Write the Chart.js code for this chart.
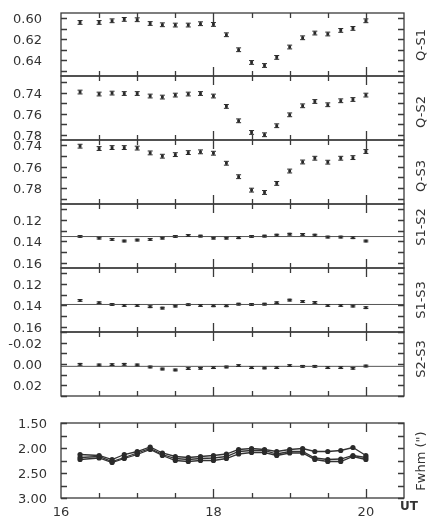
<!DOCTYPE html>
<html>
<head>
<meta charset="utf-8">
<script src="https://cdn.jsdelivr.net/npm/chart.js@4"></script>
<style>
  html, body { margin: 0; padding: 0; background: #fff; }
  #wrap { position: relative; width: 431px; height: 520px; }
  #wrap canvas { position: absolute; left: 0; top: 0; }
</style>
</head>
<body>
<div id="wrap"></div>
<script>
// Observation times (UT, hours)
const ut = [16.25, 16.5, 16.67, 16.83, 17.0, 17.17, 17.33, 17.5, 17.67, 17.83, 18.0,
            18.17, 18.33, 18.5, 18.67, 18.83, 19.0, 19.17, 19.33, 19.5, 19.67, 19.83, 20.0];

// Differential magnitudes: quasar minus comparison stars
const qs1 = [0.6040, 0.6040, 0.6024, 0.6011, 0.6014, 0.6050, 0.6062, 0.6065, 0.6065, 0.6052, 0.6059,
             0.6157, 0.6300, 0.6421, 0.6450, 0.6373, 0.6274, 0.6186, 0.6141, 0.6150, 0.6116, 0.6097, 0.6024];
const qs2 = [0.7393, 0.7412, 0.7403, 0.7407, 0.7407, 0.7431, 0.7441, 0.7422, 0.7412, 0.7407, 0.7431,
             0.7530, 0.7667, 0.7778, 0.7800, 0.7714, 0.7610, 0.7524, 0.7483, 0.7514, 0.7476, 0.7464, 0.7422];
const qs3 = [0.7408, 0.7430, 0.7421, 0.7421, 0.7426, 0.7471, 0.7502, 0.7487, 0.7468, 0.7461, 0.7474,
             0.7568, 0.7694, 0.7820, 0.7842, 0.7757, 0.7641, 0.7556, 0.7521, 0.7558, 0.7521, 0.7515, 0.7458];

// Star minus star (check curves) and their mean levels
const s1s2 = [0.1354, 0.1370, 0.1382, 0.1397, 0.1388, 0.1382, 0.1370, 0.1354, 0.1345, 0.1351, 0.1370,
              0.1370, 0.1366, 0.1354, 0.1351, 0.1342, 0.1333, 0.1335, 0.1342, 0.1360, 0.1360, 0.1366, 0.1397];
const s1s3 = [0.1354, 0.1376, 0.1392, 0.1401, 0.1401, 0.1413, 0.1426, 0.1407, 0.1394, 0.1401, 0.1404,
              0.1404, 0.1389, 0.1392, 0.1389, 0.1376, 0.1351, 0.1364, 0.1373, 0.1401, 0.1401, 0.1407, 0.1422];
const s2s3 = [0.0003, 0.0009, 0.0006, 0.0003, 0.0009, 0.0028, 0.0047, 0.0056, 0.0043, 0.0040, 0.0034,
              0.0028, 0.0015, 0.0034, 0.0037, 0.0034, 0.0015, 0.0022, 0.0022, 0.0034, 0.0034, 0.0040, 0.0019];
const s1s2Mean = 0.1355;
const s1s3Mean = 0.1392;
const s2s3Mean = 0.0022;

// Photometric errors (mag)
const errQ = 0.0018;
const errS = 0.0008;

// Seeing (FWHM, arcsec) for the three frames per epoch
const fwhmA = [2.13, 2.15, 2.23, 2.13, 2.07, 1.98, 2.10, 2.17, 2.19, 2.17, 2.15,
               2.12, 2.03, 2.01, 2.03, 2.07, 2.03, 2.01, 2.07, 2.07, 2.05, 1.99, 2.15];
const fwhmB = [2.19, 2.17, 2.27, 2.19, 2.10, 2.01, 2.13, 2.21, 2.23, 2.21, 2.20,
               2.17, 2.07, 2.05, 2.05, 2.12, 2.07, 2.07, 2.20, 2.23, 2.22, 2.15, 2.19];
const fwhmC = [2.23, 2.20, 2.29, 2.21, 2.13, 2.03, 2.15, 2.25, 2.27, 2.25, 2.25,
               2.21, 2.12, 2.09, 2.09, 2.15, 2.10, 2.10, 2.23, 2.27, 2.27, 2.17, 2.23];

// Tick labels
const utLabels   = [16, 18, 20];
const utMarks    = [16.5, 17, 17.5, 18, 18.5, 19, 19.5, 20];
const utMajor    = [18, 20];
const qs1Ticks   = [0.60, 0.62, 0.64];
const qs2Ticks   = [0.74, 0.76, 0.78];
const qs3Ticks   = [0.74, 0.76, 0.78];
const s1s2Ticks  = [0.12, 0.14, 0.16];
const s1s3Ticks  = [0.12, 0.14, 0.16];
const s2s3Ticks  = [-0.02, 0.00, 0.02];
const fwhmTicks  = [1.50, 2.00, 2.50, 3.00];

// ---- layout & style ----
const W = 431, H = 520;
const PLOT_LEFT = 61, PLOT_RIGHT = 404;
const X_AXIS_H = 22;
const INK = '#2a2a2a';
const FRAME = '#3a3a3a';
const TEXT = '#333';

Chart.defaults.font.family = '"DejaVu Sans", sans-serif';
Chart.defaults.font.size = 13;
Chart.defaults.color = TEXT;

function stepMarks(min, max, step) {
  const out = [];
  for (let k = Math.ceil(min / step - 1e-9); k * step <= max + 1e-9; k++) {
    out.push(+(k * step).toFixed(4));
  }
  return out;
}

function points(values) {
  return ut.map((t, i) => ({ x: t, y: values[i] }));
}

// Frame with inward ticks on all four sides plus the rotated panel title on the right
const panelFrame = {
  id: 'panelFrame',
  afterDraw(chart, args, opts) {
    const { ctx, chartArea: a } = chart;
    const x = chart.scales.x, y = chart.scales.y;
    ctx.save();
    ctx.strokeStyle = FRAME;
    ctx.lineWidth = 1.3;
    ctx.strokeRect(a.left, a.top, a.right - a.left, a.bottom - a.top);
    ctx.beginPath();
    for (const v of utMarks) {
      const px = Math.round(x.getPixelForValue(v)) + 0.5;
      const len = utMajor.includes(v) ? 9 : 5;
      ctx.moveTo(px, a.top); ctx.lineTo(px, a.top + len);
      ctx.moveTo(px, a.bottom); ctx.lineTo(px, a.bottom - len);
    }
    for (const v of opts.yMarks) {
      const py = Math.round(y.getPixelForValue(v)) + 0.5;
      ctx.moveTo(a.left, py); ctx.lineTo(a.left + 6, py);
      ctx.moveTo(a.right, py); ctx.lineTo(a.right - 6, py);
    }
    ctx.stroke();

    ctx.fillStyle = TEXT;
    ctx.font = '13px "DejaVu Sans", sans-serif';
    ctx.textAlign = 'center';
    ctx.textBaseline = 'middle';
    ctx.translate(opts.titleX, opts.titleY);
    ctx.rotate(-Math.PI / 2);
    ctx.fillText(opts.title, 0, 0);
    ctx.restore();

    if (opts.unit) {
      ctx.save();
      ctx.fillStyle = TEXT;
      ctx.font = 'bold 12px "DejaVu Sans", sans-serif';
      ctx.textAlign = 'center';
      ctx.textBaseline = 'middle';
      ctx.fillText(opts.unit.text, opts.unit.x, opts.unit.y);
      ctx.restore();
    }
  }
};

// Vertical error bars with caps
const errorBars = {
  id: 'errorBars',
  afterDatasetsDraw(chart) {
    const { ctx } = chart;
    const y = chart.scales.y;
    chart.data.datasets.forEach((ds, i) => {
      if (!ds.errorBar) return;
      const meta = chart.getDatasetMeta(i);
      ctx.save();
      ctx.strokeStyle = INK;
      ctx.lineWidth = 1;
      ctx.beginPath();
      meta.data.forEach((el, j) => {
        const v = ds.data[j].y;
        const y1 = y.getPixelForValue(v - ds.errorBar);
        const y2 = y.getPixelForValue(v + ds.errorBar);
        const px = el.x, c = 2.5;
        ctx.moveTo(px, y1); ctx.lineTo(px, y2);
        ctx.moveTo(px - c, y1); ctx.lineTo(px + c, y1);
        ctx.moveTo(px - c, y2); ctx.lineTo(px + c, y2);
      });
      ctx.stroke();
      ctx.restore();
    });
  }
};

function makeChart(cfg) {
  const canvas = document.createElement('canvas');
  canvas.width = W; canvas.height = H;
  canvas.style.width = W + 'px'; canvas.style.height = H + 'px';
  document.getElementById('wrap').appendChild(canvas);
  const xHeight = cfg.showX ? X_AXIS_H : 0;
  return new Chart(canvas, {
    type: 'scatter',
    data: { datasets: cfg.datasets },
    options: {
      responsive: false,
      animation: false,
      devicePixelRatio: 1,
      events: [],
      layout: {
        padding: {
          left: 0,
          right: W - PLOT_RIGHT,
          top: cfg.top,
          bottom: H - cfg.bottom - xHeight
        }
      },
      plugins: {
        legend: { display: false },
        tooltip: { enabled: false },
        panelFrame: {
          title: cfg.title, titleX: 422, titleY: cfg.titleY,
          yMarks: cfg.yMarks, unit: cfg.unit || null
        }
      },
      scales: {
        x: {
          type: 'linear', min: 16, max: 20.5,
          display: !!cfg.showX,
          grid: { display: false, drawTicks: false },
          border: { display: false },
          afterBuildTicks: s => { s.ticks = utLabels.map(v => ({ value: v })); },
          afterFit: s => { s.height = xHeight; s.paddingLeft = 0; s.paddingRight = 0; },
          ticks: { padding: 7, autoSkip: false, maxRotation: 0, color: TEXT,
                   callback: v => String(v) }
        },
        y: {
          type: 'linear', min: cfg.min, max: cfg.max, reverse: true,
          grid: { display: false, drawTicks: false },
          border: { display: false },
          afterBuildTicks: s => { s.ticks = cfg.labels.map(v => ({ value: v })); },
          afterFit: s => { s.width = PLOT_LEFT; s.paddingTop = 0; s.paddingBottom = 0; },
          ticks: { padding: cfg.labelPad, labelOffset: 1.5, autoSkip: false, color: TEXT,
                   callback: v => Number(v).toFixed(2) }
        }
      }
    },
    plugins: [errorBars, panelFrame]
  });
}

function magPanel(p) {
  const datasets = [];
  if (p.mean !== undefined) {
    datasets.push({
      type: 'line',
      data: [{ x: 16, y: p.mean }, { x: 20.5, y: p.mean }],
      borderColor: '#555', borderWidth: 1, pointRadius: 0, fill: false
    });
  }
  datasets.push({
    data: points(p.values),
    errorBar: p.err,
    pointStyle: 'rect',
    pointRadius: 2,
    backgroundColor: INK,
    borderWidth: 0
  });
  makeChart({
    datasets, title: p.title, titleY: p.titleY,
    min: p.min, max: p.max, labels: p.labels, labelPad: 19,
    yMarks: stepMarks(p.min, p.max, 0.01),
    top: p.top, bottom: p.bottom, showX: false
  });
}

magPanel({ title: 'Q-S1',  values: qs1,  err: errQ, min: 0.595, max: 0.655, labels: qs1Ticks,  top: 13,  bottom: 76,  titleY: 45 });
magPanel({ title: 'Q-S2',  values: qs2,  err: errQ, min: 0.724, max: 0.785, labels: qs2Ticks,  top: 76,  bottom: 140, titleY: 112 });
magPanel({ title: 'Q-S3',  values: qs3,  err: errQ, min: 0.735, max: 0.795, labels: qs3Ticks,  top: 140, bottom: 204, titleY: 176 });
magPanel({ title: 'S1-S2', values: s1s2, err: errS, min: 0.105, max: 0.165, labels: s1s2Ticks, top: 204, bottom: 268, titleY: 227, mean: s1s2Mean });
magPanel({ title: 'S1-S3', values: s1s3, err: errS, min: 0.105, max: 0.165, labels: s1s3Ticks, top: 268, bottom: 332, titleY: 300, mean: s1s3Mean });
magPanel({ title: 'S2-S3', values: s2s3, err: errS, min: -0.03, max: 0.03,  labels: s2s3Ticks, top: 332, bottom: 396, titleY: 359, mean: s2s3Mean });

// Seeing panel
const seeingStyle = {
  showLine: true, borderColor: '#333', borderWidth: 1.3,
  pointRadius: 2.6, pointBackgroundColor: INK, pointBorderWidth: 0
};
makeChart({
  datasets: [
    Object.assign({ data: points(fwhmA) }, seeingStyle),
    Object.assign({ data: points(fwhmB) }, seeingStyle),
    Object.assign({ data: points(fwhmC) }, seeingStyle)
  ],
  title: 'Fwhm (")', titleY: 461,
  min: 1.5, max: 3.0, labels: fwhmTicks, labelPad: 14,
  yMarks: stepMarks(1.5, 3.0, 0.25),
  top: 423, bottom: 498, showX: true,
  unit: { text: 'UT', x: 409, y: 507 }
});
</script>
</body>
</html>
